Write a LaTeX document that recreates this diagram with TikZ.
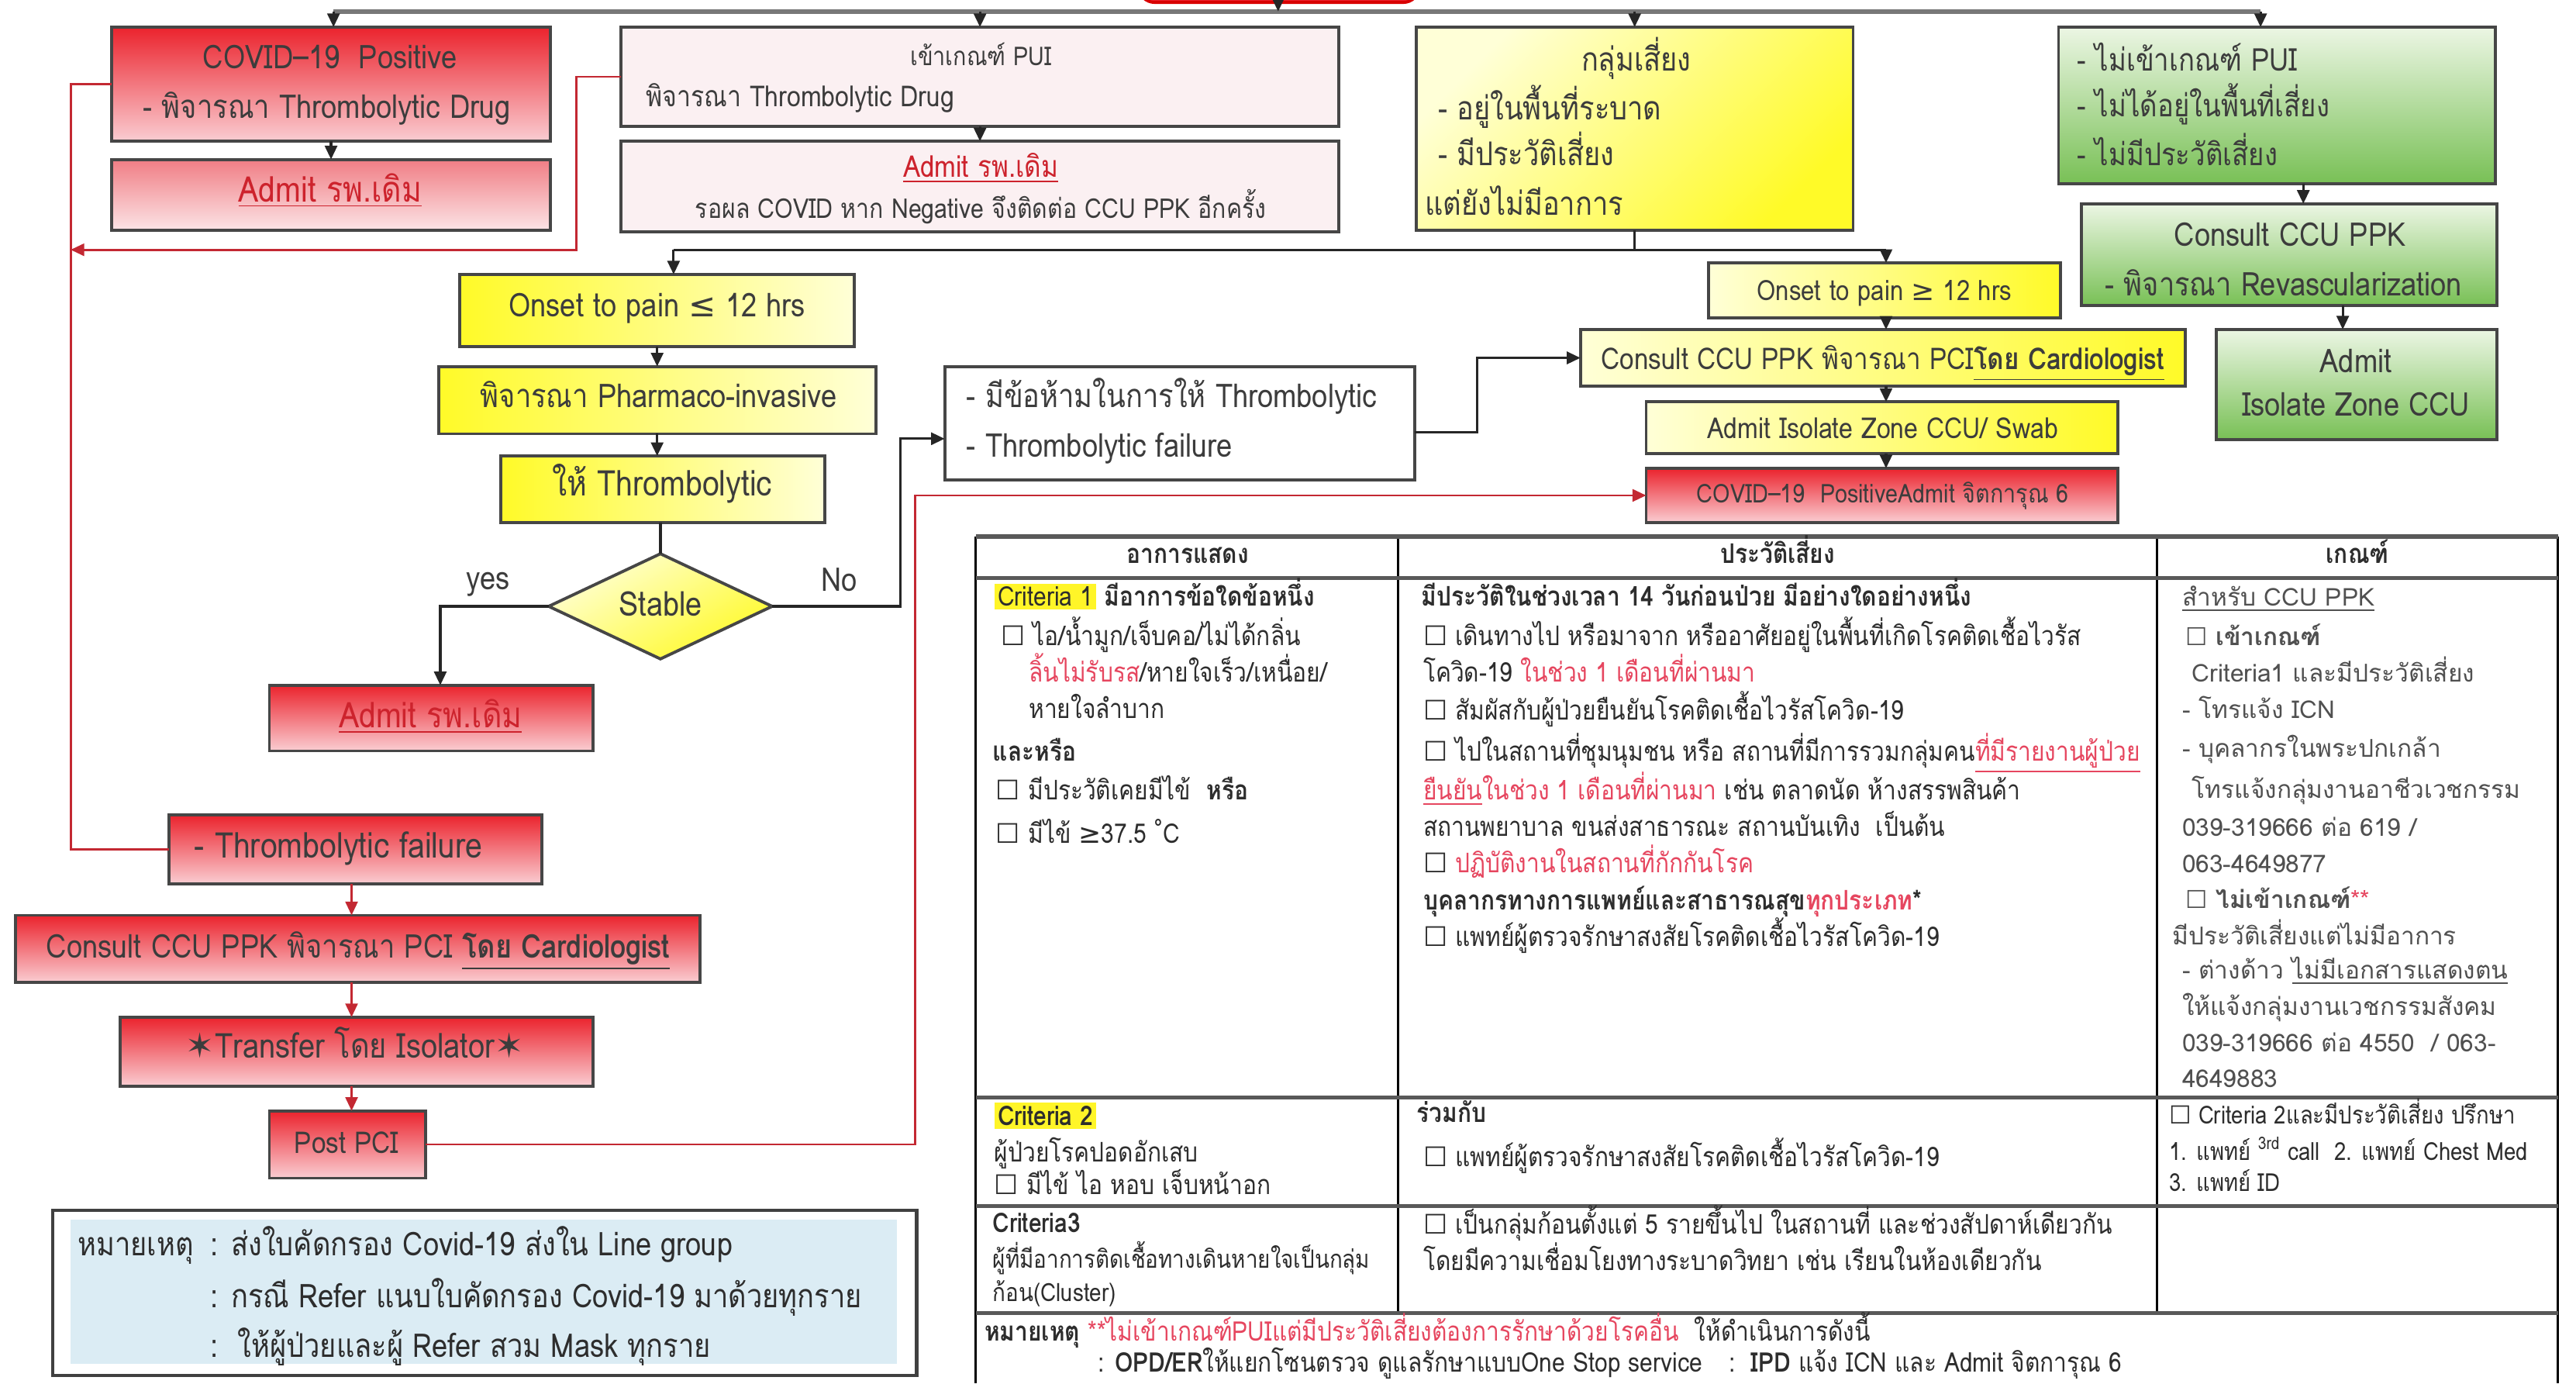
\documentclass[tikz,border=0pt]{standalone}
\usepackage{fontspec}
\setmainfont{Loma}[Script=Thai, FakeStretch=0.86]
\newfontfamily\widef{Loma}[Script=Thai]
\newfontfamily\symf{DejaVu Sans}
\usetikzlibrary{shapes.geometric, arrows.meta, fit}
\definecolor{txtc}{RGB}{60,60,60}
\definecolor{tabc}{RGB}{45,45,45}
\definecolor{tabc3}{RGB}{80,80,80}
\definecolor{tred}{RGB}{205,35,45}
\definecolor{tabred}{RGB}{230,70,95}
\definecolor{lred}{RGB}{195,40,50}
\definecolor{bdr}{RGB}{70,70,70}
\definecolor{busc}{RGB}{120,120,120}
\definecolor{rtop}{RGB}{235,35,45}
\definecolor{rbot}{RGB}{250,205,210}
\definecolor{r2top}{RGB}{240,125,132}
\definecolor{r2bot}{RGB}{252,228,230}
\definecolor{pale}{RGB}{251,240,242}
\definecolor{ybright}{RGB}{255,250,40}
\definecolor{ylight}{RGB}{255,255,215}
\definecolor{gtop}{RGB}{236,246,228}
\definecolor{gbot}{RGB}{120,192,85}
\definecolor{noteblue}{RGB}{219,236,244}
\definecolor{hly}{RGB}{255,245,40}
\newcommand\fs[1]{\fontsize{#1}{#1}\selectfont}
\newcommand\cbx{{\symf ☐}}
\newcommand\rd[1]{\textcolor{tabred}{#1}}
\newcommand\hlt[1]{{\setlength\fboxsep{1.2pt}\colorbox{hly}{#1}}}
\newcommand\adm{\textcolor{tred}{\underline{Admit รพ.เดิม}}}
\begin{document}
\begin{tikzpicture}[x=0.2119mm, y=-0.2119mm,
  bx/.style={draw=bdr, line width=1.1pt, inner sep=0pt, outer sep=0pt},
  redbox/.style={bx, top color=rtop, bottom color=rbot},
  red2box/.style={bx, top color=r2top, bottom color=r2bot},
  palebox/.style={bx, fill=pale},
  whitebox/.style={bx, fill=white},
  ylr/.style={bx, left color=ybright, right color=ylight},
  yrl/.style={bx, left color=ylight, right color=ybright},
  ydiag/.style={bx, top color=ylight, bottom color=ybright, shading angle=45},
  grbox/.style={bx, top color=gtop, bottom color=gbot},
  tx/.style={inner sep=0pt, text=txtc, text height=1.6ex, text depth=.45ex, font=\fs{12}},
  tb/.style={inner sep=0pt, text=tabc, text height=1.6ex, text depth=.45ex, font=\fs{9.9}, anchor=west},
  tc/.style={tb, text=tabc3, font=\widef\fs{9}},
  tn/.style={inner sep=0pt, text=tabc, text height=1.6ex, text depth=.45ex, font=\fs{12}, anchor=west},
  arr/.style={-{Triangle[length=5pt,width=4.5pt]}, line width=.9pt, draw=black!85},
  ln/.style={line width=.9pt, draw=black!85},
  busln/.style={line width=1.6pt, draw=busc},
  redln/.style={line width=.8pt, draw=lred},
  redarr/.style={redln, -{Triangle[length=5pt,width=4.5pt]}},
  hrule/.style={line width=1.5pt, draw=black!65},
  vrule/.style={line width=.8pt, draw=black}
]
\useasboundingbox (0,0) rectangle (1568,842);
\fill[white] (0,0) rectangle (1568,842);

% ---------- boxes ----------
\node[draw=red!85!black, line width=1.1pt, fill=rtop, rounded corners=6pt, inner sep=0pt, fit={(693,-30) (864,1.5)}] (top) {};
\node[redbox,  fit={(68,16.5) (335,86)}] (b1) {};
\node[red2box, fit={(68,97) (335,140)}] (b2) {};
\node[palebox, fit={(378,16.5) (815,77)}] (b3) {};
\node[palebox, fit={(378,86) (815,141)}] (b4) {};
\node[ydiag,   fit={(862,16.5) (1128,140)}] (b5) {};
\node[grbox,   fit={(1253,16.5) (1519,112)}] (b6) {};
\node[grbox,   fit={(1267,124) (1520,186)}] (b7) {};
\node[grbox,   fit={(1349,200.5) (1520,267.5)}] (b8) {};
\node[ylr,     fit={(280,167) (520,211)}] (b9) {};
\node[ylr,     fit={(267,223) (533,264)}] (b10) {};
\node[ylr,     fit={(305,277.5) (502,318)}] (b11) {};
\node[bx, diamond, top color=ylight, bottom color=ybright, shading angle=30,
      minimum width=136*0.2119mm, minimum height=64*0.2119mm] (dia) at (402,369) {};
\node[redbox,  fit={(164,417) (361,457)}] (b12) {};
\node[whitebox,fit={(575,223) (861,292)}] (b13) {};
\node[yrl,     fit={(1040,160) (1254,193.5)}] (b14) {};
\node[yrl,     fit={(962,200.6) (1330,235)}] (b15) {};
\node[yrl,     fit={(1002,244.6) (1289,276)}] (b16) {};
\node[redbox,  fit={(1002,285) (1289,318)}] (b17) {};
\node[redbox,  fit={(103,496) (330,538)}] (b18) {};
\node[redbox,  fit={(9.4,557) (426,598)}] (b19) {};
\node[redbox,  fit={(73,619) (361,661)}] (b20) {};
\node[redbox,  fit={(164,676) (259,717)}] (b21) {};

% ---------- box texts ----------
\node[tx] (t1a) at (201,37) {COVID–19\ \ Positive};
\node[tx] (t1b) at (199,67) {- พิจารณา Thrombolytic Drug};
\node[tx, font=\fs{13}] (t2) at (201,118) {\adm};
\node[tx, font=\fs{9.5}] (t3a) at (597,35) {เข้าเกณฑ์ PUI};
\node[tx, anchor=west, font=\fs{10.6}] (t3b) at (393,60) {พิจารณา Thrombolytic Drug};
\node[tx, font=\fs{11}] (t4a) at (597,103) {\adm};
\node[tx, font=\fs{10}] (t4b) at (597,128) {รอผล COVID หาก Negative จึงติดต่อ CCU PPK อีกครั้ง};
\node[tx] (t5a) at (996,38) {กลุ่มเสี่ยง};
\node[tx, anchor=west] (t5b) at (875,68) {- อยู่ในพื้นที่ระบาด};
\node[tx, anchor=west] (t5c) at (875,96) {- มีประวัติเสี่ยง};
\node[tx, anchor=west] (t5d) at (867,126) {แต่ยังไม่มีอาการ};
\node[tx, anchor=west, font=\fs{11.5}] (t6a) at (1264,38) {- ไม่เข้าเกณฑ์ PUI};
\node[tx, anchor=west, font=\fs{11.5}] (t6b) at (1264,66) {- ไม่ได้อยู่ในพื้นที่เสี่ยง};
\node[tx, anchor=west, font=\fs{11.5}] (t6c) at (1264,96) {- ไม่มีประวัติเสี่ยง};
\node[tx] (t7a) at (1394,145) {Consult CCU PPK};
\node[tx] (t7b) at (1390,175) {- พิจารณา Revascularization};
\node[tx] (t8a) at (1434,222) {Admit};
\node[tx] (t8b) at (1434,248) {Isolate Zone CCU};
\node[tx] (t9) at (400,188) {Onset to pain {\symf ≤} 12 hrs};
\node[tx] (t10) at (401,243) {พิจารณา Pharmaco-invasive};
\node[tx, font=\fs{13}] (t11) at (403,297) {ให้ Thrombolytic};
\node[tx, font=\fs{12.5}] (tdia) at (402,370) {Stable};
\node[tx] (tyes) at (297,354) {yes};
\node[tx] (tno) at (511,355) {No};
\node[tx, font=\fs{13}] (t12) at (262,438) {\adm};
\node[tx, anchor=west] (t13a) at (588,243) {- มีข้อห้ามในการให้ Thrombolytic};
\node[tx, anchor=west] (t13b) at (588,273) {- Thrombolytic failure};
\node[tx, font=\fs{10.3}] (t14) at (1147,178) {Onset to pain {\symf ≥} 12 hrs};
\node[tx, font=\fs{11}] (t15) at (1146,220) {Consult CCU PPK พิจารณา PCI\textbf{\underline{โดย Cardiologist}}};
\node[tx, font=\fs{10.6}] (t16) at (1146,262) {Admit Isolate Zone CCU/ Swab};
\node[tx, font=\fs{9.5}] (t17) at (1146,301) {COVID–19\ \ PositiveAdmit จิตการุณ 6};
\node[tx, font=\fs{13}] (t18) at (206,517) {- Thrombolytic failure};
\node[tx] (t19) at (218,578) {Consult CCU PPK พิจารณา PCI \textbf{\underline{โดย Cardiologist}}};
\node[tx, font=\fs{12.6}] (t20) at (216,639) {{\symf ✶}Transfer โดย Isolator{\symf ✶}};
\node[tx, font=\fs{11}] (t21) at (211,697) {Post PCI};

% ---------- connectors ----------
\coordinate (busA) at (203,7);
\coordinate (busB) at (1376,7);
\coordinate (busT) at (778,7);
\draw[busln] (busA) -- (busB);
\draw[arr] (top.south -| busT) -- (busT);
\draw[arr] (busA) -- (busA |- b1.north);
\draw[arr] (b3.north |- busA) -- (b3.north);
\draw[arr] (b5.north |- busA) -- (b5.north);
\draw[arr] (busB) -- (busB |- b6.north);
\draw[arr] (b1.south) -- (b2.north);
\draw[arr] (b3.south) -- (b4.north);
\coordinate (g6) at (1402,0);
\draw[arr] (g6 |- b6.south) -- (g6 |- b7.north);
\coordinate (g7) at (1426,0);
\draw[arr] (g7 |- b7.south) -- (g7 |- b8.north);
% second bus
\coordinate (c2L) at (410,152);
\coordinate (c2R) at (1148,152);
\draw[ln] (c2L) -- (c2R);
\draw[ln] (b5.south) -- (b5.south |- c2L);
\draw[arr] (c2L) -- (c2L |- b9.north);
\draw[arr] (c2R) -- (c2R |- b14.north);
\draw[arr] (b9.south) -- (b9.south |- b10.north);
\draw[arr] (b10.south) -- (b10.south |- b11.north);
\draw[ln] (b11.south -| dia.north) -- (dia.north);
\coordinate (yy) at (268,369);
\draw[arr] (dia.west) -- (yy) -- (yy |- b12.north);
\coordinate (nn) at (548,369);
\coordinate (nn2) at (548,267);
\draw[arr] (dia.east) -- (nn) -- (nn2) -- (nn2 -| b13.west);
\coordinate (cc) at (899,263);
\draw[arr] (cc -| b13.east) -- (cc) -- (cc |- b15.west) -- (b15.west);
\draw[arr] (c2R |- b14.south) -- (c2R |- b15.north);
\draw[arr] (c2R |- b15.south) -- (c2R |- b16.north);
\draw[arr] (c2R |- b16.south) -- (c2R |- b17.north);
% red connectors
\coordinate (rl) at (43,0);
\draw[redln] (b1.west) -- (b1.west -| rl) -- (rl |- b18.west) -- (b18.west);
\coordinate (rp) at (351,152);
\draw[redarr] (b3.west) -- (b3.west -| rp) -- (rp) -- (rp -| rl);
\coordinate (rx) at (214,0);
\draw[redarr] (rx |- b18.south) -- (rx |- b19.north);
\draw[redarr] (rx |- b19.south) -- (rx |- b20.north);
\draw[redarr] (rx |- b20.south) -- (rx |- b21.north);
\coordinate (rr) at (557,0);
\draw[redarr] (b21.east) -- (b21.east -| rr) -- (rr |- b17.west) -- (b17.west);

% ---------- note box ----------
\node[draw=black!75, line width=1.3pt, fill=white, inner sep=0pt, fit={(32,736.5) (558,837)}] (note) {};
\node[fill=noteblue, inner sep=0pt, fit={(43,742) (546,830)}] (noteb) {};
\node[tn] (n1) at (47,759) {หมายเหตุ};
\node[tn] (n2) at (128,759) {: ส่งใบคัดกรอง Covid-19 ส่งใน Line group};
\node[tn] (n3) at (128,791) {: กรณี Refer แนบใบคัดกรอง Covid-19 มาด้วยทุกราย};
\node[tn] (n4) at (128,821) {:\ \ ให้ผู้ป่วยและผู้ Refer สวม Mask ทุกราย};

% ---------- table ----------
\draw[vrule] (594,326.5) -- (594,842);
\draw[vrule] (1557,326.5) -- (1557,842);
\draw[vrule] (851,326.5) -- (851,799);
\draw[vrule] (1313,326.5) -- (1313,799);
\draw[hrule] (594,326.5) -- (1557,326.5);
\draw[hrule] (594,351.6) -- (1557,351.6);
\draw[hrule] (594,668) -- (1557,668);
\draw[hrule] (594,734) -- (1557,734);
\draw[hrule] (594,799) -- (1557,799);

\node[tb, anchor=center] (h1) at (723,338) {\textbf{อาการแสดง}};
\node[tb, anchor=center] (h2) at (1082,338) {\textbf{ประวัติเสี่ยง}};
\node[tb, anchor=center] (h3) at (1435,338) {\textbf{เกณฑ์}};

\node[tb] (a1) at (605,364) {\hlt{Criteria 1}\ \textbf{มีอาการข้อใดข้อหนึ่ง}};
\node[tb] (a2) at (609,388) {\cbx\ ไอ/น้ำมูก/เจ็บคอ/ไม่ได้กลิ่น};
\node[tb] (a3) at (626,410) {\rd{ลิ้นไม่รับรส}/หายใจเร็ว/เหนื่อย/};
\node[tb] (a4) at (626,432) {หายใจลำบาก};
\node[tb] (a5) at (604,458) {\textbf{และหรือ}};
\node[tb] (a6) at (606,482) {\cbx\ มีประวัติเคยมีไข้\ \ \textbf{หรือ}};
\node[tb] (a7) at (606,508) {\cbx\ มีไข้ {\symf ≥}37.5 \textsuperscript{°}C};

\node[tb] (p1) at (865,364) {\textbf{มีประวัติในช่วงเวลา 14 วันก่อนป่วย มีอย่างใดอย่างหนึ่ง}};
\node[tb] (p2) at (866,388) {\cbx\ เดินทางไป หรือมาจาก หรืออาศัยอยู่ในพื้นที่เกิดโรคติดเชื้อไวรัส};
\node[tb] (p3) at (866,410) {โควิด-19 \rd{ในช่วง 1 เดือนที่ผ่านมา}};
\node[tb] (p4) at (866,433) {\cbx\ สัมผัสกับผู้ป่วยยืนยันโรคติดเชื้อไวรัสโควิด-19};
\node[tb] (p5) at (866,458) {\cbx\ ไปในสถานที่ชุมนุมชน หรือ สถานที่มีการรวมกลุ่มคน\rd{\underline{ที่มีรายงานผู้ป่วย}}};
\node[tb] (p6) at (866,482) {\rd{\underline{ยืนยัน}ในช่วง 1 เดือนที่ผ่านมา} เช่น ตลาดนัด ห้างสรรพสินค้า};
\node[tb] (p7) at (866,504) {สถานพยาบาล ขนส่งสาธารณะ สถานบันเทิง\ \ เป็นต้น};
\node[tb] (p8) at (866,526) {\cbx\ \rd{ปฏิบัติงานในสถานที่กักกันโรค}};
\node[tb] (p9) at (866,549) {\textbf{บุคลากรทางการแพทย์และสาธารณสุข\rd{ทุกประเภท}*}};
\node[tb] (p10) at (866,571) {\cbx\ แพทย์ผู้ตรวจรักษาสงสัยโรคติดเชื้อไวรัสโควิด-19};

\node[tc] (k1) at (1328,364) {\underline{สำหรับ CCU PPK}};
\node[tc] (k2) at (1330,388) {\cbx\ \textbf{เข้าเกณฑ์}};
\node[tc] (k3) at (1334,410) {Criteria1 และมีประวัติเสี่ยง};
\node[tc] (k4) at (1328,432) {- โทรแจ้ง ICN};
\node[tc] (k5) at (1328,456) {- บุคลากรในพระปกเกล้า};
\node[tc] (k6) at (1334,481) {โทรแจ้งกลุ่มงานอาชีวเวชกรรม};
\node[tc] (k7) at (1328,504) {039-319666 ต่อ 619 /};
\node[tc] (k8) at (1328,526) {063-4649877};
\node[tc] (k9) at (1330,548) {\cbx\ \textbf{ไม่เข้าเกณฑ์}\rd{**}};
\node[tc] (k10) at (1322,570) {มีประวัติเสี่ยงแต่ไม่มีอาการ};
\node[tc] (k11) at (1328,591) {- ต่างด้าว \underline{ไม่มีเอกสารแสดงตน}};
\node[tc] (k12) at (1328,613) {ให้แจ้งกลุ่มงานเวชกรรมสังคม};
\node[tc] (k13) at (1328,635) {039-319666 ต่อ 4550\ \ / 063-};
\node[tc] (k14) at (1328,657) {4649883};

\node[tb] (r1) at (605,680) {\hlt{\textbf{Criteria 2}}};
\node[tb] (r2) at (605,702) {ผู้ป่วยโรคปอดอักเสบ};
\node[tb] (r3) at (605,722) {\cbx\ มีไข้ ไอ หอบ เจ็บหน้าอก};
\node[tb] (r4) at (862,678) {\textbf{ร่วมกับ}};
\node[tb] (r5) at (866,705) {\cbx\ แพทย์ผู้ตรวจรักษาสงสัยโรคติดเชื้อไวรัสโควิด-19};
\node[tb, font=\fs{9.1}] (r6) at (1320,679) {\cbx\ Criteria 2และมีประวัติเสี่ยง ปรึกษา};
\node[tb, font=\fs{9.1}] (r7) at (1320,701) {1. แพทย์ \textsuperscript{3rd} call\ \ 2. แพทย์ Chest Med};
\node[tb, font=\fs{9.1}] (r8) at (1320,720) {3. แพทย์ ID};

\node[tb] (s1) at (604,745) {\textbf{Criteria3}};
\node[tb, font=\fs{9.2}] (s2) at (604,767) {ผู้ที่มีอาการติดเชื้อทางเดินหายใจเป็นกลุ่ม};
\node[tb, font=\fs{9.2}] (s3) at (604,787) {ก้อน(Cluster)};
\node[tb] (s4) at (866,746) {\cbx\ เป็นกลุ่มก้อนตั้งแต่ 5 รายขึ้นไป ในสถานที่ และช่วงสัปดาห์เดียวกัน};
\node[tb] (s5) at (866,768) {โดยมีความเชื่อมโยงทางระบาดวิทยา เช่น เรียนในห้องเดียวกัน};

\node[tb] (m1) at (599,811) {\textbf{หมายเหตุ} \rd{**ไม่เข้าเกณฑ์PUIแต่มีประวัติเสี่ยงต้องการรักษาด้วยโรคอื่น}\ \ ให้ดำเนินการดังนี้};
\node[tb, text depth=.2ex] (m2) at (668,829) {: \textbf{OPD/ER}ให้แยกโซนตรวจ ดูแลรักษาแบบOne Stop service\quad:\ \ \textbf{IPD} แจ้ง ICN และ Admit จิตการุณ 6};
\end{tikzpicture}
\end{document}
